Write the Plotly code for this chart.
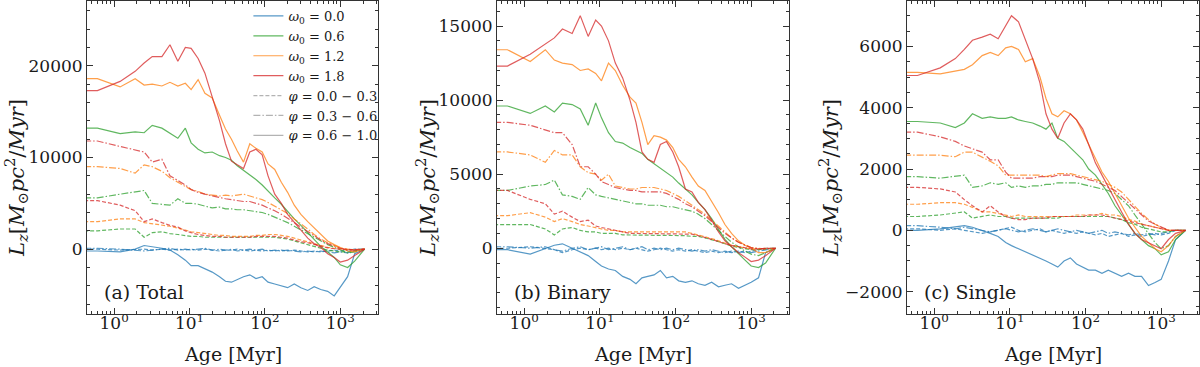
import plotly.graph_objects as go

# Ages in Myr (shared grid for all curves)
AGE = [0.4, 0.6, 1.2, 1.9, 2.5, 3.2, 4.3, 5.5, 7.0, 8.8,
       10.5, 13, 16, 20, 25, 30, 36, 43, 52, 63,
       76, 92, 110, 135, 165, 200, 245, 300, 370, 450,
       550, 680, 830, 1000, 1250, 1550, 2100]

# ---------------- (a) Total ----------------
tot_w18_hi = [17300, 17300, 18300, 19400, 20300, 21000, 21000, 22300, 20500, 22000,
              21900, 20800, 19200, 16500, 14000, 11500, 9600, 9200, 8800, 10600,
              10900, 10300, 8000, 6000, 5000, 3800, 2900, 2000, 1200, 600,
              200, -500, -900, -1400, -1200, -700, 0]
tot_w12_hi = [18600, 18600, 17700, 18600, 17900, 18000, 17800, 18200, 17800, 18100,
              17400, 18500, 17000, 16500, 14600, 13100, 12000, 10700, 9500, 11500,
              11000, 10600, 9300, 8700, 7300, 6200, 4800, 3800, 3000, 2300,
              1600, 900, 500, 200, -200, -300, 0]
tot_w06_hi = [13200, 13200, 12600, 12800, 12700, 13500, 13200, 12600, 12100, 13200,
              11600, 10900, 10500, 10600, 10200, 10000, 9700, 9100, 8600, 8100,
              7600, 7000, 6300, 5600, 4900, 4100, 3300, 2600, 1800, 1000,
              300, -300, -900, -1700, -2000, -1300, 0]
tot_w00_hi = [-200, -200, -300, 0, 400, 300, 100, -100, -600, -1200,
              -1800, -1800, -2100, -2500, -3000, -3500, -3600, -3300, -3000, -2800,
              -3200, -3000, -3600, -3800, -4000, -4200, -3800, -4200, -4500, -4100,
              -4400, -4600, -5100, -4200, -3000, -500, 0]
tot_w18_md = [11800, 11800, 11200, 10800, 10600, 9500, 9800, 8000, 7500, 7000,
              6500, 6200, 6000, 5800, 5600, 5500, 5400, 5300, 5200, 5200,
              5000, 4800, 4500, 4200, 3800, 3400, 2900, 2400, 1900, 1400,
              1000, 600, 300, 100, -100, -100, 0]
tot_w12_md = [9000, 9000, 8800, 8300, 9200, 9000, 8500, 7800, 7300, 6900,
              6500, 6300, 6000, 5900, 5800, 5900, 5800, 5900, 6000, 5800,
              5600, 5400, 5100, 4700, 4300, 3900, 3300, 2800, 2200, 1600,
              1100, 700, 400, 150, 0, -100, 0]
tot_w06_md = [5600, 5600, 6000, 6200, 6400, 5000, 4900, 4800, 5500, 5000,
              5000, 4900, 4700, 4500, 4600, 4400, 4400, 4300, 4300, 4200,
              4100, 4000, 3800, 3500, 3200, 2900, 2500, 2100, 1700, 1300,
              900, 500, 200, -100, -400, -300, 0]
tot_w00_md = [100, 100, 0, -100, -200, -100, 0, 100, -100, 0,
              -100, 0, 100, -100, 0, -100, 0, -200, -100, 0,
              -100, 0, -200, -100, -200, -100, -200, -300, -200, -300,
              -200, -300, -400, -300, -400, -200, 0]
tot_w18_lo = [5300, 5300, 4800, 4200, 3000, 3300, 2900, 2600, 2400, 2000,
              1800, 1600, 1500, 1400, 1400, 1300, 1300, 1300, 1300, 1300,
              1400, 1400, 1400, 1400, 1300, 1200, 1000, 800, 700, 500,
              300, 150, 50, 0, -50, -50, 0]
tot_w12_lo = [3000, 3000, 3300, 3300, 2900, 2800, 2600, 2500, 2300, 2100,
              1900, 1800, 1700, 1600, 1500, 1500, 1400, 1400, 1400, 1400,
              1500, 1500, 1600, 1600, 1500, 1400, 1200, 1000, 800, 600,
              400, 200, 100, 0, -50, -50, 0]
tot_w06_lo = [2000, 2000, 2200, 2200, 1300, 1800, 1900, 1700, 1600, 1500,
              1400, 1400, 1300, 1300, 1300, 1300, 1300, 1300, 1300, 1300,
              1300, 1300, 1300, 1300, 1200, 1100, 900, 700, 500, 300,
              100, -100, -200, -300, -300, -200, 0]
tot_w00_lo = [0, 0, -100, 0, 0, -100, 0, -100, 0, -100,
              0, -100, 0, -100, -200, -100, -100, 0, -100, -200,
              -100, -200, -100, -200, -100, -200, -100, -200, -300, -200,
              -300, -200, -100, -200, -100, 0, 0]

# ---------------- (b) Binary ----------------
bin_w18_hi = [12300, 12300, 13100, 13800, 14200, 14800, 14500, 15700, 14300, 15400,
              15000, 14000, 12500, 11500, 10000, 8500, 6500, 6000, 5800, 7000,
              7200, 6500, 5500, 4000, 3800, 3100, 2600, 1900, 1100, 500,
              100, -300, -600, -900, -800, -500, 0]
bin_w12_hi = [13400, 13400, 12600, 13400, 12700, 12500, 12400, 12000, 12100, 11800,
              11300, 12500, 12000, 11000, 10200, 9800, 8500, 7000, 7600, 7500,
              7300, 6800, 6000, 5500, 4800, 4200, 3900, 3200, 2400, 1600,
              1000, 500, 200, 0, -300, -300, 0]
bin_w06_hi = [9600, 9600, 9100, 9600, 9200, 9800, 9700, 9400, 8300, 9800,
              8800, 7800, 7200, 7100, 6800, 6600, 6400, 6000, 5700, 5400,
              5100, 4800, 4400, 4000, 3600, 3100, 2600, 2000, 1300, 600,
              100, -400, -800, -1200, -1300, -1000, 0]
bin_w00_hi = [-100, -100, -400, 0, 200, 300, 0, -200, -500, -900,
              -1200, -1400, -1500, -1900, -2100, -2400, -2000, -1900, -1800, -1500,
              -2000, -1900, -2200, -2300, -2200, -2400, -2500, -2300, -2600, -2500,
              -2400, -2700, -2500, -2300, -2000, -300, 0]
bin_w18_md = [8500, 8500, 8300, 8000, 7800, 7800, 7000, 5500, 5500, 5000,
              4500, 4300, 4100, 4000, 3900, 3900, 3800, 3800, 3800, 3800,
              3700, 3500, 3300, 3000, 2800, 2500, 2200, 1800, 1400, 1000,
              700, 400, 200, 50, -50, -50, 0]
bin_w12_md = [6500, 6500, 6300, 5800, 6600, 6300, 6300, 5500, 5100, 5000,
              4600, 5000, 4200, 4100, 4000, 4000, 4100, 4100, 4100, 4000,
              3900, 3700, 3500, 3200, 2900, 2600, 2300, 1900, 1500, 1100,
              700, 400, 200, 50, 0, -50, 0]
bin_w06_md = [3900, 3900, 4200, 4300, 4600, 3600, 3500, 3300, 4100, 3600,
              3500, 3400, 3300, 3200, 3100, 3000, 3000, 2900, 2900, 2900,
              2800, 2800, 2700, 2600, 2500, 2300, 2000, 1600, 1200, 800,
              400, 100, -200, -400, -500, -300, 0]
bin_w00_md = [100, 100, 0, 100, -100, -200, 0, 100, -100, 0,
              100, -100, 0, 100, -100, 0, 100, -100, 0, -100,
              0, -100, 0, -100, -200, -100, -200, -100, -200, -300,
              -200, -300, -200, -300, -200, -100, 0]
bin_w18_lo = [3900, 3900, 3300, 3000, 2300, 2500, 2100, 1800, 1900, 1500,
              1400, 1300, 1200, 1100, 1000, 1000, 1000, 1000, 1000, 1000,
              1000, 1000, 1000, 1000, 950, 850, 750, 600, 450, 300,
              200, 100, 0, -50, -50, 0, 0]
bin_w12_lo = [2200, 2200, 2400, 2100, 1800, 2000, 1800, 1600, 1500, 1400,
              1300, 1200, 1200, 1100, 1100, 1100, 1100, 1100, 1100, 1100,
              1100, 1100, 1100, 1100, 1000, 900, 800, 650, 500, 350,
              200, 100, 0, -50, -50, 0, 0]
bin_w06_lo = [1600, 1600, 1600, 1300, 900, 1300, 1400, 1200, 1100, 1100,
              1000, 1000, 1000, 900, 900, 900, 900, 900, 900, 900,
              900, 900, 900, 850, 800, 800, 700, 600, 450, 300,
              150, 50, -50, -100, -100, -50, 0]
bin_w00_lo = [0, 0, 100, 0, -100, -300, -100, 0, -100, 0,
              -100, 0, -100, 0, -100, 0, -100, -200, -100, 0,
              -100, -200, -100, -200, -100, -200, -300, -200, -300, -200,
              -300, -200, -300, -200, -100, 0, 0]

# ---------------- (c) Single ----------------
sgl_w18_hi = [5050, 5050, 5300, 5600, 5900, 6200, 6300, 6400, 6250, 6700,
              7000, 6800, 6200, 5600, 4800, 3800, 3300, 3000, 3500, 3800,
              3600, 3300, 2800, 2200, 1800, 1400, 1000, 600, 200, -100,
              -300, -400, -500, -600, -300, -100, 0]
sgl_w12_hi = [5150, 5150, 5100, 5200, 5250, 5400, 5700, 5800, 5700, 5950,
              6000, 5900, 5500, 5600, 5000, 4300, 3800, 3700, 3900, 3800,
              3600, 3200, 2800, 2300, 1900, 1600, 1200, 800, 400, 100,
              -200, -400, -600, -700, -500, -200, 0]
sgl_w06_hi = [3550, 3550, 3500, 3350, 3500, 3800, 3650, 3700, 3650, 3650,
              3700, 3600, 3550, 3500, 3400, 3300, 3500, 3000, 2900, 2700,
              2500, 2300, 2000, 1800, 1500, 1200, 800, 500, 200, -100,
              -300, -500, -600, -800, -700, -300, 0]
sgl_w00_hi = [0, 0, 50, 100, 150, 100, 0, -100, -200, -400,
              -500, -600, -700, -800, -900, -1000, -1100, -1200, -1000, -900,
              -1100, -1200, -1300, -1300, -1400, -1300, -1400, -1500, -1400, -1500,
              -1500, -1800, -1700, -1600, -1000, -300, 0]
sgl_w18_md = [3200, 3200, 3050, 2900, 2750, 2650, 2550, 2300, 2300, 1900,
              1700, 1700, 1700, 1700, 1750, 1750, 1750, 1800, 1800, 1800,
              1750, 1700, 1650, 1600, 1500, 1400, 1300, 1100, 900, 700,
              500, 300, 200, 100, 0, 0, 0]
sgl_w12_md = [2450, 2450, 2450, 2400, 2550, 2550, 2400, 2250, 2100, 1800,
              1800, 1800, 1800, 1800, 1800, 1750, 1800, 1850, 1850, 1850,
              1800, 1750, 1700, 1650, 1600, 1500, 1400, 1250, 1000, 800,
              550, 350, 200, 100, 0, 0, 0]
sgl_w06_md = [1750, 1750, 1700, 1750, 1800, 1400, 1450, 1550, 1500, 1550,
              1400, 1450, 1400, 1450, 1450, 1500, 1500, 1550, 1550, 1550,
              1550, 1500, 1450, 1400, 1350, 1300, 1200, 1000, 800, 500,
              200, -100, -400, -600, -500, -200, 0]
sgl_w00_md = [150, 150, 100, 50, 100, 50, 0, -50, 0, 50,
              0, -50, 0, 50, 0, -50, 0, 50, 0, -50,
              0, -50, -100, -50, 0, -100, -50, -100, -150, -100,
              -150, -100, -150, -100, -50, 0, 0]
sgl_w18_lo = [1400, 1400, 1350, 1250, 1000, 800, 600, 800, 600, 450,
              400, 350, 350, 400, 400, 400, 450, 450, 450, 450,
              450, 450, 500, 500, 500, 450, 400, 350, 300, 250,
              200, 150, 100, 50, 0, 0, 0]
sgl_w12_lo = [850, 850, 900, 900, 850, 750, 600, 600, 550, 500,
              450, 500, 450, 450, 450, 450, 450, 450, 450, 450,
              500, 500, 500, 500, 550, 500, 500, 450, 350, 300,
              200, 150, 100, 50, 0, 0, 0]
sgl_w06_lo = [450, 450, 500, 550, 600, 400, 450, 500, 450, 450,
              400, 400, 400, 400, 400, 400, 400, 400, 450, 450,
              450, 450, 450, 450, 450, 450, 400, 350, 250, 200,
              100, 50, 0, -50, -50, 0, 0]
sgl_w00_lo = [50, 50, 0, 50, 0, -50, -100, -50, 0, 50,
              100, 0, -50, 0, 50, -50, 0, -50, -100, -50,
              -100, -50, -100, -150, -100, -200, -150, -100, -200, -150,
              -200, -150, -100, -150, -100, 0, 0]

OMEGAS = ["0.0", "0.6", "1.2", "1.8"]
PHIS = ["0.0 − 0.3", "0.3 − 0.6", "0.6 − 1.0"]
COLORS = ["#1f77b4", "#2ca02c", "#ff7f0e", "#d62728"]
DASHES = ["4px,2px", "7px,2px,1.5px,2px", "solid"]

panels = [
    ("(a) Total", [-7070, 27070], [0, 10000, 20000], 2000,
     [[tot_w00_lo, tot_w00_md, tot_w00_hi], [tot_w06_lo, tot_w06_md, tot_w06_hi],
      [tot_w12_lo, tot_w12_md, tot_w12_hi], [tot_w18_lo, tot_w18_md, tot_w18_hi]]),
    ("(b) Binary", [-4440, 16690], [0, 5000, 10000, 15000], 1000,
     [[bin_w00_lo, bin_w00_md, bin_w00_hi], [bin_w06_lo, bin_w06_md, bin_w06_hi],
      [bin_w12_lo, bin_w12_md, bin_w12_hi], [bin_w18_lo, bin_w18_md, bin_w18_hi]]),
    ("(c) Single", [-2730, 7480], [-2000, 0, 2000, 4000, 6000], 500,
     [[sgl_w00_lo, sgl_w00_md, sgl_w00_hi], [sgl_w06_lo, sgl_w06_md, sgl_w06_hi],
      [sgl_w12_lo, sgl_w12_md, sgl_w12_hi], [sgl_w18_lo, sgl_w18_md, sgl_w18_hi]]),
]
domains = [[87 / 1200, 378 / 1200], [497 / 1200, 789 / 1200], [907 / 1200, 1199 / 1200]]
ytitle_x = [16, 427, 830]   # pixel centres of the rotated y titles

FONT = "DejaVu Serif"
INK = "#1a1a1a"
# log minor tick positions 2..9 for each decade
minor_x = [m * 10 ** e for e in range(-1, 4) for m in range(2, 10)]

fig = go.Figure()

for p, (label, yr, yticks, yminor, series) in enumerate(panels):
    sfx = "" if p == 0 else str(p + 1)
    for i, per_omega in enumerate(series):
        for j, vals in enumerate(per_omega):
            assert len(vals) == len(AGE)
            fig.add_trace(go.Scatter(
                x=AGE, y=vals, mode="lines", showlegend=False,
                line=dict(color=COLORS[i], width=1.2, dash=DASHES[j]),
                opacity=0.75, xaxis="x" + sfx, yaxis="y" + sfx))
    axis_common = dict(ticks="inside", mirror="allticks", showline=True,
                       linecolor="#333", linewidth=1, tickcolor="#333",
                       showgrid=False, zeroline=False, ticklen=6, automargin=False,
                       tickfont=dict(family=FONT, size=17, color=INK))
    fig.update_layout(**{
        "xaxis" + sfx: dict(type="log", range=[-0.36, 3.5], domain=domains[p],
                            anchor="y" + sfx, tickmode="array",
                            tickvals=[1, 10, 100, 1000],
                            ticktext=["10<sup>0</sup>", "10<sup>1</sup>",
                                      "10<sup>2</sup>", "10<sup>3</sup>"],
                            ticklabelstandoff=-6,
                            minor=dict(ticks="inside", tickmode="array", tickvals=minor_x,
                                       ticklen=3, tickcolor="#333"),
                            **axis_common),
        "yaxis" + sfx: dict(range=yr, anchor="x" + sfx, tickvals=yticks,
                            tickformat="d",
                            minor=dict(ticks="inside", dtick=yminor, ticklen=3,
                                       tickcolor="#333"),
                            **axis_common),
    })
    fig.add_annotation(text=label, xref="x%s domain" % sfx, yref="y%s domain" % sfx,
                       x=0.05, y=0.07, xanchor="left", yanchor="middle",
                       showarrow=False, font=dict(family=FONT, size=19, color=INK))
    fig.add_annotation(text="Age [Myr]", xref="x%s domain" % sfx, yref="paper",
                       x=0.5, y=-(354 - 314) / 313, xanchor="center", yanchor="middle",
                       showarrow=False, font=dict(family=FONT, size=19, color=INK))
    fig.add_annotation(text="<i>L<sub>z</sub></i>[<i>M</i><sub>⊙</sub>"
                            "<i>pc</i><sup>2</sup>/<i>Myr</i>]",
                       textangle=-90, xref="paper", yref="paper",
                       x=ytitle_x[p] / 1200, y=(314 - 178) / 313,
                       xanchor="center", yanchor="middle", showarrow=False,
                       font=dict(family=FONT, size=21, color=INK))

# legend entries
for i, w in enumerate(OMEGAS):
    fig.add_trace(go.Scatter(x=[None], y=[None], mode="lines",
                             name="<i>ω</i><sub>0</sub> = " + w,
                             line=dict(color=COLORS[i], width=1.2), opacity=0.75))
for j, ph in enumerate(PHIS):
    fig.add_trace(go.Scatter(x=[None], y=[None], mode="lines",
                             name="<i>φ</i> = " + ph,
                             line=dict(color="#999", width=1.2, dash=DASHES[j]),
                             opacity=0.75))

fig.update_layout(
    width=1200, height=367,
    margin=dict(l=0, r=0, t=1, b=53, autoexpand=False),
    font=dict(family=FONT, color=INK),
    plot_bgcolor="white", paper_bgcolor="white",
    legend=dict(x=0.207, y=1.0, xanchor="left", yanchor="top",
                bgcolor="rgba(0,0,0,0)", font=dict(family=FONT, size=13, color=INK),
                tracegroupgap=0),
)

# the page body has a default 8px margin; drop it so the figure sits at the corner
fig.write_html("out.html", config={"displayModeBar": False},
               post_script="document.body.style.margin='0';")
